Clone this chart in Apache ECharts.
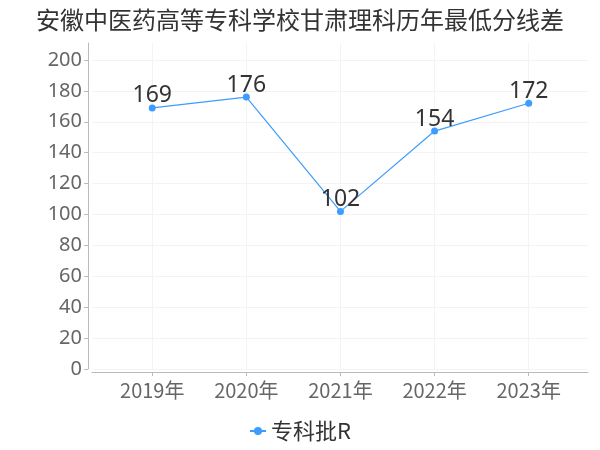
<!DOCTYPE html>
<html><head><meta charset="utf-8">
<script src="https://cdn.jsdelivr.net/npm/echarts@6/dist/echarts.min.js"></script>
<style>html,body{margin:0;padding:0;background:#fff}#c{width:600px;height:450px}</style>
</head><body><div id="c"></div>
<script>
var title = '安徽中医药高等专科学校甘肃理科历年最低分线差';
var categories = ['2019年', '2020年', '2021年', '2022年', '2023年'];
var seriesName = '专科批R';
var values = [169, 176, 102, 154, 172];
var yTicks = [0, 20, 40, 60, 80, 100, 120, 140, 160, 180, 200];

var idx = categories.map(function (c, i) { return i; });
var chart = echarts.init(document.getElementById('c'), null, {renderer: 'canvas'});
chart.setOption({
  animation: false,
  backgroundColor: '#fff',
  title: {
    text: title, left: 'center', top: 3,
    textStyle: {fontSize: 24, fontWeight: 'normal', color: '#333', fontFamily: 'Noto Sans CJK SC'}
  },
  legend: {
    bottom: 3, left: 'center',
    itemWidth: 16, itemHeight: 10,
    textStyle: {fontSize: 22, color: '#333', fontFamily: 'Noto Sans CJK SC'},
    data: [seriesName]
  },
  grid: {left: 92, right: 12, top: 43, bottom: 81, containLabel: false},
  xAxis: {
    type: 'value', min: -0.64, max: 4.63, offset: 3,
    axisLine: {show: true, onZero: false, lineStyle: {color: '#bbb'}},
    axisTick: {show: true, customValues: idx, length: 4, lineStyle: {color: '#bbb'}},
    axisLabel: {
      customValues: idx, fontSize: 20, color: '#666', margin: 8,
      fontFamily: 'Noto Sans CJK SC',
      formatter: function (v) { return categories[Math.round(v)]; }
    },
    splitLine: {show: true, lineStyle: {color: '#f3f3f3'}}
  },
  yAxis: {
    type: 'value', min: 0, max: 211, offset: 4,
    axisLine: {show: true, onZero: false, lineStyle: {color: '#bbb'}},
    axisTick: {show: true, customValues: yTicks, length: 4, lineStyle: {color: '#bbb'}},
    axisLabel: {customValues: yTicks, fontSize: 20, color: '#666', margin: 6, fontFamily: 'Noto Sans'},
    splitLine: {show: true, lineStyle: {color: '#f3f3f3'}}
  },
  series: [{
    name: seriesName, type: 'line',
    data: values.map(function (v, i) { return [idx[i], v]; }),
    symbol: 'circle', symbolSize: 7,
    itemStyle: {color: '#3d9cff'},
    lineStyle: {color: '#3d9cff', width: 1.2},
    label: {show: true, position: 'top', distance: -3, fontSize: 23, color: '#333', fontFamily: 'Noto Sans'}
  }]
});
</script></body></html>
